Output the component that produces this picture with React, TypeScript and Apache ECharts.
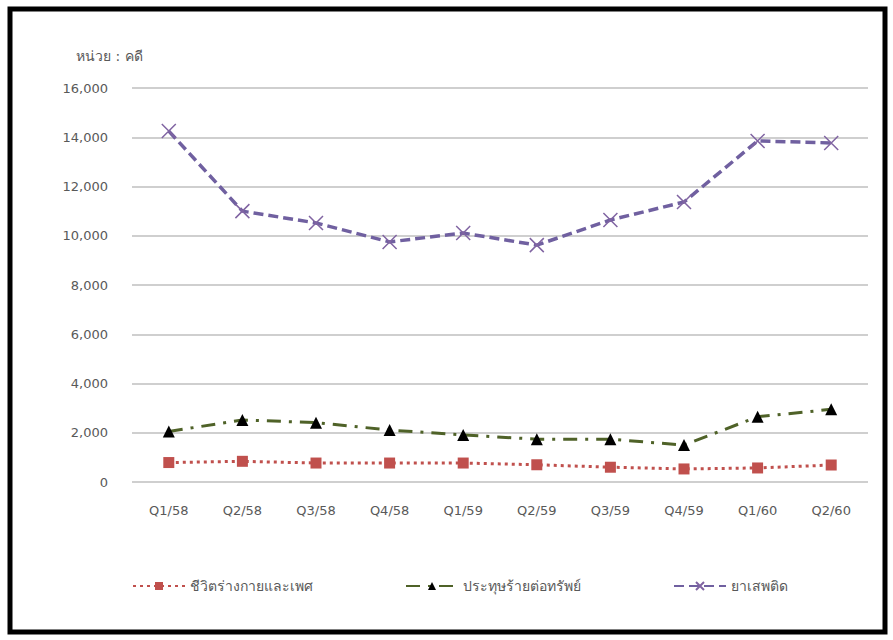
import React, { useEffect, useRef } from "react";
import * as echarts from "echarts";

const categories = ["Q1/58", "Q2/58", "Q3/58", "Q4/58", "Q1/59", "Q2/59", "Q3/59", "Q4/59", "Q1/60", "Q2/60"];
const lifeBody = [790, 840, 770, 770, 770, 700, 600, 530, 570, 690];
const property = [2050, 2520, 2410, 2110, 1910, 1740, 1740, 1500, 2650, 2950];
const drugs = [14250, 11000, 10520, 9750, 10110, 9620, 10640, 11370, 13850, 13770];
const seriesNames = ["ชีวิตร่างกายและเพศ", "ประทุษร้ายต่อทรัพย์", "ยาเสพติด"];
const yTicks = [0, 2000, 4000, 6000, 8000, 10000, 12000, 14000, 16000];
const unitLabel = "หน่วย : คดี";

const FONT = "'DejaVu Sans', Tahoma, 'Noto Sans', sans-serif";

export default function App() {
  const ref = useRef<HTMLDivElement>(null);
  useEffect(() => {
    if (!ref.current) return;
    const chart = echarts.init(ref.current, undefined, { renderer: "svg" });
    chart.setOption({
      animation: false,
      backgroundColor: "#fff",
      textStyle: { fontFamily: FONT },
      grid: { left: 132, right: 25, top: 88, bottom: 158 },
      graphic: [
        {
          type: "rect",
          shape: { x: 10, y: 9, width: 875, height: 623 },
          style: { fill: "none", stroke: "#000", lineWidth: 5 },
          silent: true,
        },
        {
          type: "text",
          left: 76,
          top: 49,
          style: { text: unitLabel, fill: "#595959", fontSize: 14, fontFamily: FONT },
        },
      ],
      legend: {
        bottom: 42,
        left: 127,
        itemGap: 92,
        itemWidth: 52,
        itemHeight: 10,
        textStyle: { color: "#595959", fontSize: 14, fontFamily: FONT },
        data: seriesNames,
      },
      xAxis: {
        type: "category",
        data: categories,
        boundaryGap: true,
        axisLine: { show: false },
        axisTick: { show: false },
        axisLabel: { color: "#595959", fontSize: 13, margin: 22, fontFamily: FONT },
      },
      yAxis: {
        type: "value",
        min: yTicks[0],
        max: yTicks[yTicks.length - 1],
        interval: 2000,
        axisLine: { show: false },
        axisTick: { show: false },
        splitLine: { lineStyle: { color: "#BFBFBF", width: 1.5 } },
        axisLabel: {
          color: "#595959",
          fontSize: 13,
          margin: 24,
          fontFamily: FONT,
          formatter: (v: number) => v.toLocaleString("en-US"),
        },
      },
      series: [
        {
          name: seriesNames[0],
          type: "line",
          data: lifeBody,
          symbol: "rect",
          symbolSize: 11,
          itemStyle: { color: "#C0504D" },
          lineStyle: { color: "#C0504D", width: 3, type: [3, 4] },
        },
        {
          name: seriesNames[1],
          type: "line",
          data: property,
          symbol: "triangle",
          symbolSize: 12,
          itemStyle: { color: "#000" },
          lineStyle: { color: "#4F6228", width: 3, type: [14, 8, 3, 8] },
        },
        {
          name: seriesNames[2],
          type: "line",
          data: drugs,
          symbol: "path://M0,0L10,10M10,0L0,10",
          symbolSize: 14,
          itemStyle: { color: "none", borderColor: "#8064A2", borderWidth: 1.5 },
          lineStyle: { color: "#7060A0", width: 3.5, type: [10, 5] },
        },
      ],
    });
    return () => chart.dispose();
  }, []);
  return (
    <div
      ref={ref}
      style={{ position: "fixed", left: 0, top: 0, width: 893, height: 640 }}
    />
  );
}
